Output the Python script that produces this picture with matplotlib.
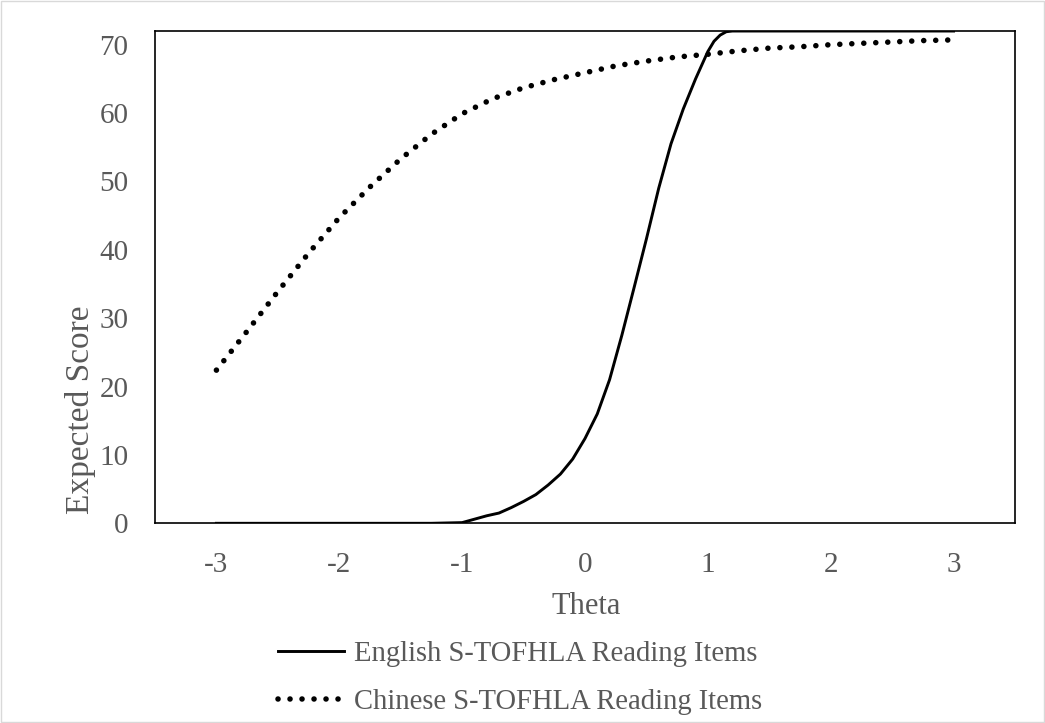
"""Expected score curves for the English and Chinese S-TOFHLA reading items."""

import matplotlib

matplotlib.use("Agg")
import matplotlib.pyplot as plt
from matplotlib.patches import Rectangle

# English S-TOFHLA reading items (theta, expected score)
theta_english = [
    -3.0, -2.5, -2.0, -1.5, -1.25, -1.0, -0.9, -0.8, -0.7, -0.6, -0.5,
    -0.4, -0.3, -0.2, -0.1, 0.0, 0.1, 0.2, 0.3, 0.4, 0.5, 0.6, 0.7,
    0.8, 0.9, 1.0, 1.05, 1.1, 1.15, 1.2, 1.5, 2.0, 2.5, 3.0,
]
score_english = [
    0.0, 0.0, 0.0, 0.0, 0.0, 0.1, 0.6, 1.1, 1.5, 2.3, 3.2,
    4.2, 5.6, 7.2, 9.4, 12.4, 16.0, 21.0, 27.5, 34.5, 41.6, 49.0, 55.5,
    60.6, 65.0, 69.0, 70.5, 71.4, 71.9, 72.0, 72.0, 72.0, 72.0, 72.0,
]

# Chinese S-TOFHLA reading items
theta_chinese = [
    -3.0, -2.75, -2.5, -2.25, -2.0, -1.75, -1.5, -1.25, -1.0, -0.75,
    -0.5, -0.25, 0.0, 0.25, 0.5, 0.75, 1.0, 1.25, 1.5, 1.75, 2.0,
    2.25, 2.5, 2.75, 3.0,
]
score_chinese = [
    22.4, 28.1, 33.9, 39.5, 44.7, 49.2, 53.3, 56.9, 59.9, 62.1,
    63.7, 64.9, 65.9, 66.9, 67.6, 68.2, 68.6, 69.1, 69.5, 69.7, 70.0,
    70.2, 70.4, 70.6, 70.7,
]

x_ticks = [-3, -2, -1, 0, 1, 2, 3]
y_ticks = [0, 10, 20, 30, 40, 50, 60, 70]

TEXT_GREY = "#595959"
plt.rcParams["font.family"] = ["Liberation Serif", "DejaVu Serif"]

fig = plt.figure(figsize=(10.45, 7.23), dpi=100)
ax = fig.add_axes([0.1483, 0.2762, 0.8230, 0.6809])

ax.plot(theta_english, score_english, color="black", lw=2.1,
        label="English S-TOFHLA Reading Items")
ax.plot(theta_chinese, score_chinese, color="black", lw=4.0,
        linestyle=(0, (0.01, 2.15)), dash_capstyle="round",
        label="Chinese S-TOFHLA Reading Items")

ax.set_xlim(-3.5, 3.5)
ax.set_ylim(0, 72)
ax.set_xticks(x_ticks)
ax.set_xticklabels([str(t) for t in x_ticks])
ax.set_yticks(y_ticks)
ax.tick_params(length=0, labelsize=21, labelcolor=TEXT_GREY)
ax.tick_params(axis="x", pad=21)
ax.tick_params(axis="y", pad=19)
for spine in ax.spines.values():
    spine.set_linewidth(1.2)
    spine.set_color("black")

fig.text(586 / 1045, 1 - 606 / 723, "Theta", ha="center", va="center",
         fontsize=22, color=TEXT_GREY)
fig.text(80 / 1045, 1 - 410 / 723, "Expected Score", ha="center",
         va="center", rotation=90, fontsize=24, color=TEXT_GREY)

leg = fig.legend(loc="center", bbox_to_anchor=(520 / 1045, 1 - 678 / 723),
                 frameon=False, fontsize=20.6, handlelength=2.3,
                 handletextpad=0.35, labelspacing=0.75, borderpad=0)
for text in leg.get_texts():
    text.set_color(TEXT_GREY)

# light chart-area border
fig.patches.append(Rectangle((0.001, 0.001), 0.998, 0.998,
                             transform=fig.transFigure, fill=False,
                             edgecolor="#d9d9d9", lw=1))

fig.savefig("out.png", dpi=100)
